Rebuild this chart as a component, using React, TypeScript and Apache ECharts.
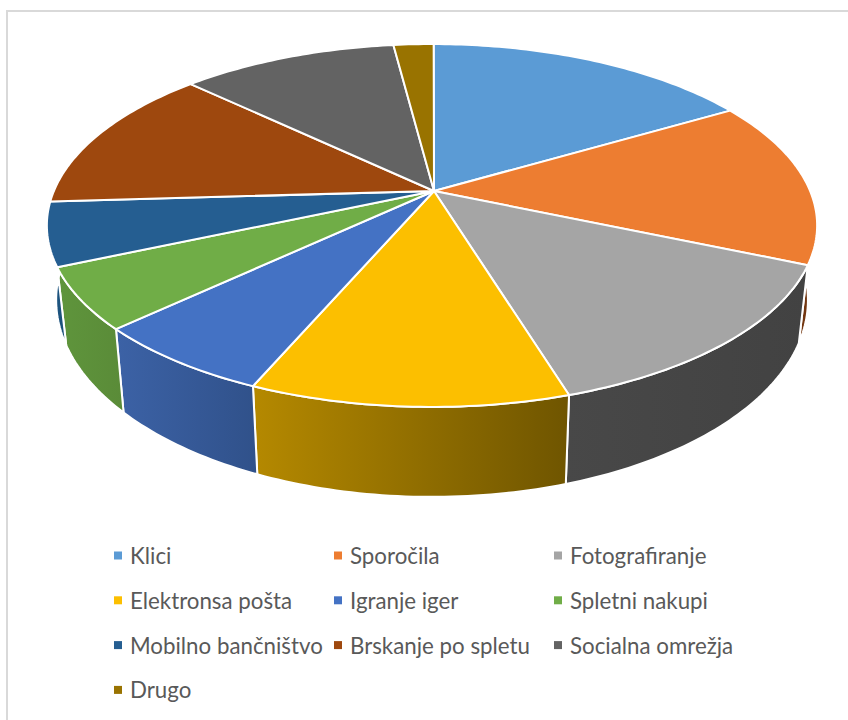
import React, { useEffect, useRef } from "react";
import * as echarts from "echarts";

const categories = ["Klici", "Sporočila", "Fotografiranje", "Elektronsa pošta", "Igranje iger", "Spletni nakupi", "Mobilno bančništvo", "Brskanje po spletu", "Socialna omrežja", "Drugo"];
const shares = [16.6, 14.82, 13.73, 11.12, 6.53, 5.44, 5.65, 13.12, 10.96, 2.03];
const topColors = ["#5B9BD5", "#ED7D31", "#A5A5A5", "#FCBF00", "#4472C4", "#70AD47", "#255E91", "#9E480E", "#636363", "#997300"];
const wallLeft = ["#44749F", "#7A3A10", "#484848", "#B58900", "#3C62A6", "#5F953C", "#1F5A88", "#76360B", "#4A4A4A", "#725600"];
const wallRight = ["#44749F", "#6E3410", "#424242", "#6F5500", "#30518A", "#5A8B38", "#1B4F78", "#76360B", "#4A4A4A", "#725600"];
const legendCols = [[0, 3, 6, 9], [1, 4, 7], [2, 5, 8]];
const legendX = [114, 334, 554];

const CX = 432, CY = 190, A = 377.7, B = 174.5, K = 0.1955;
const APEX = [434, 191];
const START_DEG = 0.3;
const RAD = Math.PI / 180;

const project = (deg: number) => {
  const u = Math.sin(deg * RAD), v = Math.cos(deg * RAD);
  const d = 1 + K * v;
  return [CX + (A * u) / d, CY - (B * v) / d];
};
const drop = (p: number[]) => [p[0] - 0.024 * (p[0] - 434), p[1] + 78 + 0.085 * (p[1] - 266)];

const arc = (from: number, to: number) => {
  const n = Math.max(1, Math.ceil(Math.abs(to - from)));
  const pts: number[][] = [];
  for (let i = 0; i <= n; i++) pts.push(project(from + ((to - from) * i) / n));
  return pts;
};

const total = shares.reduce((s, x) => s + x, 0);
const starts: number[] = [];
shares.reduce((acc, x, i) => {
  starts[i] = acc;
  return acc + x;
}, 0);

export default function App() {
  const ref = useRef<HTMLDivElement>(null);
  useEffect(() => {
    document.body.style.margin = "0";
    const chart = echarts.init(ref.current!, undefined, { renderer: "svg" });
    const series = categories.map((name, i) => ({
      type: "custom",
      name,
      coordinateSystem: "none",
      itemStyle: { color: topColors[i] },
      data: [[starts[i], shares[i]]],
      silent: true,
      renderItem: (_p: any, api: any) => {
        const a0 = START_DEG + (api.value(0) / total) * 360;
        const a1 = a0 + (api.value(1) / total) * 360;
        const rim = arc(a0, a1);
        const children: any[] = [];
        const w0 = Math.max(a0, 80), w1 = Math.min(a1, 280);
        if (w1 > w0) {
          const front = arc(w0, w1);
          children.push({
            type: "polygon",
            z2: 1,
            shape: { points: [...front, ...front.map(drop).reverse()] },
            style: {
              fill: {
                type: "linear", x: 0, y: 0, x2: 1, y2: 0,
                colorStops: [{ offset: 0, color: wallLeft[i] }, { offset: 1, color: wallRight[i] }],
              },
              stroke: "#fff",
              lineWidth: 2,
              lineJoin: "round",
            },
          });
        }
        children.push({
          type: "polygon",
          z2: 10,
          shape: { points: [APEX, ...rim] },
          style: { fill: topColors[i], stroke: "#fff", lineWidth: 2, lineJoin: "round" },
        });
        return { type: "group", children };
      },
    }));
    chart.setOption({
      animation: false,
      graphic: [{
        type: "rect",
        shape: { x: 7, y: 11, width: 900, height: 800 },
        style: { fill: "none", stroke: "#D9D9D9", lineWidth: 2 },
        silent: true,
      }],
      legend: legendCols.map((col, i) => ({
        orient: "vertical",
        left: legendX[i],
        top: 544.5,
        itemWidth: 8,
        itemHeight: 8,
        itemGap: 22.8,
        icon: "rect",
        padding: 0,
        selectedMode: false,
        data: col.map((j) => categories[j]),
        textStyle: { fontFamily: "Lato", fontSize: 22.3, color: "#595959", padding: [0, 0, 0, 3] },
      })),
      series,
    });
    return () => chart.dispose();
  }, []);
  return <div ref={ref} style={{ width: 848, height: 720 }} />;
}
